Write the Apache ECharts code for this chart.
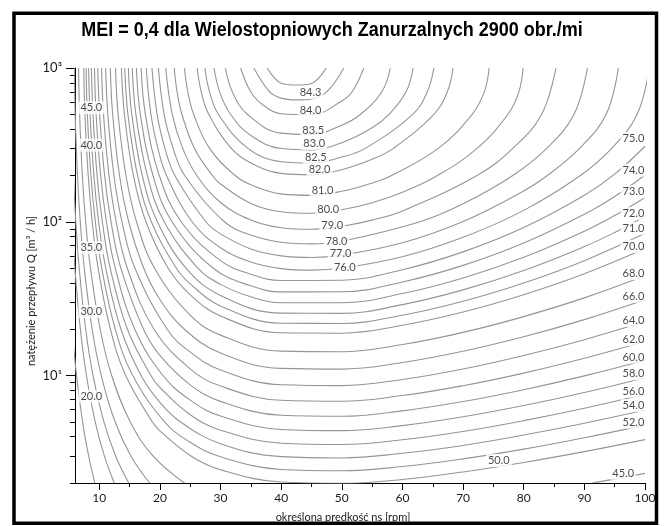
<!DOCTYPE html>
<html>
<head>
<meta charset="utf-8">
<script src="https://cdn.jsdelivr.net/npm/echarts@6/dist/echarts.min.js"></script>
<style>
  html, body { margin: 0; padding: 0; background: #fff; }
  #chart { width: 664px; height: 526px; }
</style>
</head>
<body>
<div id="chart"></div>
<script>
// axis ticks
const nsTicks = [10, 20, 30, 40, 50, 60, 70, 80, 90, 100];
const nsMinorTicks = [15, 25, 35, 45, 55, 65, 75, 85, 95];
const qDecades = [10, 100, 1000];
const qMinorTicks = [2, 3, 4, 5, 6, 7, 8, 9, 20, 30, 40, 50, 60, 70, 80, 90, 200, 300, 400, 500, 600, 700, 800, 900];

// contour lines: [ns, Q]
const c20 = [[4.86, 50], [5.53, 20], [6.25, 10], [7.25, 5], [8.25, 3], [9.27, 2]];
const c30 = [[5.51, 100], [5.98, 50], [6.89, 20], [7.89, 10], [9.33, 5], [10.84, 3], [12.47, 2]];
const c35 = [[5.41, 500], [5.74, 200], [6.13, 100], [6.69, 50], [7.76, 20], [8.98, 10], [10.77, 5], [12.70, 3], [14.87, 2]];
const c40 = [[5.88, 1000], [6.03, 500], [6.41, 200], [6.87, 100], [7.53, 50], [8.83, 20], [10.33, 10], [12.61, 5], [15.21, 3], [18.33, 2]];
const c45 = [[6.59, 1000], [6.76, 500], [7.21, 200], [7.76, 100], [8.55, 50], [10.15, 20], [12.05, 10], [15.10, 5], [18.86, 3], [24.03, 2]];
const c45b = [[91.3, 2], [95, 2.12], [100, 2.31]];
const c50 = [[7.44, 1000], [7.64, 500], [8.18, 200], [8.84, 100], [9.81, 50], [11.84, 20], [14.36, 10], [18.74, 5], [20, 4.37], [25.12, 3], [30, 2.44], [40, 2.03], [50, 1.99], [60, 2.11], [70, 2.36], [80, 2.72], [90, 3.20], [100, 3.83]];
const c52 = [[7.83, 1000], [8.04, 500], [8.62, 200], [9.35, 100], [10.41, 50], [12.65, 20], [15.53, 10], [20.77, 5], [25, 3.68], [30, 2.96], [40, 2.45], [50, 2.40], [60, 2.56], [70, 2.87], [80, 3.32], [90, 3.94], [100, 4.76]];
const c54 = [[8.25, 1000], [8.48, 500], [9.11, 200], [9.90, 100], [11.07, 50], [13.58, 20], [16.89, 10], [20, 6.68], [23.36, 5], [30, 3.60], [40, 2.97], [50, 2.91], [60, 3.12], [70, 3.51], [80, 4.10], [90, 4.89], [100, 5.96]];
const c56 = [[8.71, 1000], [8.96, 500], [9.64, 200], [10.51, 100], [11.80, 50], [14.64, 20], [18.51, 10], [20, 8.36], [25, 5.56], [30, 4.41], [40, 3.63], [50, 3.56], [60, 3.82], [70, 4.33], [80, 5.09], [90, 6.13], [100, 7.55]];
const c58 = [[9.21, 1000], [9.48, 500], [10.23, 200], [11.18, 100], [12.63, 50], [15.86, 20], [20.51, 10], [25, 6.92], [30, 5.45], [40, 4.46], [50, 4.38], [60, 4.72], [70, 5.39], [80, 6.38], [90, 7.76], [100, 9.68]];
const c60 = [[9.76, 1000], [10.06, 500], [10.88, 200], [11.94, 100], [13.56, 50], [17.30, 20], [20, 13.53], [25, 8.70], [30, 6.79], [40, 5.52], [50, 5.43], [60, 5.89], [70, 6.77], [80, 8.09], [90, 9.95], [100, 12.58]];
const c62 = [[10.38, 1000], [10.70, 500], [11.61, 200], [12.79, 100], [14.62, 50], [19.04, 20], [25, 11.05], [30, 8.54], [40, 6.90], [50, 6.80], [60, 7.41], [70, 8.59], [80, 10.37], [90, 12.94], [100, 16.63]];
const c64 = [[11.06, 1000], [11.41, 500], [12.42, 200], [13.75, 100], [15.87, 50], [21.20, 20], [25, 14.21], [30, 10.87], [40, 8.71], [50, 8.60], [60, 9.43], [70, 11.03], [80, 13.50], [90, 17.11], [100, 22.44]];
const c66 = [[11.82, 1000], [12.21, 500], [13.34, 200], [14.86, 100], [17.33, 50], [20, 31.2], [24.05, 20], [30, 14.00], [40, 11.13], [50, 11.01], [60, 12.15], [70, 14.39], [80, 17.87], [90, 23.09], [100, 31.07]];
const c68 = [[12.68, 1000], [13.11, 500], [14.40, 200], [16.15, 100], [19.11, 50], [25, 24.67], [30, 18.31], [40, 14.41], [50, 14.29], [60, 15.91], [70, 19.09], [80, 24.16], [90, 31.99], [100, 44.5]];
const c70 = [[13.66, 1000], [14.15, 500], [15.63, 200], [17.70, 100], [21.34, 50], [25, 33.5], [30, 24.38], [40, 18.96], [50, 18.85], [60, 21.21], [70, 25.88], [80, 33.52], [90, 45.87], [100, 66.9]];
const c71 = [[14.21, 1000], [14.73, 500], [16.32, 200], [18.59, 100], [22.70, 50], [25, 39.46], [30, 28.37], [40, 21.90], [50, 21.81], [60, 24.69], [70, 30.42], [80, 39.99], [90, 55.85], [100, 84.1]];
const c72 = [[14.80, 1000], [15.36, 500], [17.09, 200], [19.59, 100], [24.31, 50], [30, 33.20], [40, 25.44], [50, 25.38], [60, 28.91], [70, 36.05], [80, 48.18], [90, 68.96], [95, 85.2], [100, 108.2]];
const c73 = [[15.44, 1000], [16.04, 500], [17.93, 200], [20.71, 100], [26.26, 50], [30, 39.16], [35, 32.5], [40, 29.72], [50, 29.71], [60, 34.13], [70, 43.10], [80, 58.75], [90, 86.77], [95, 109.7], [100, 144]];
const c74 = [[16.13, 1000], [16.78, 500], [18.86, 200], [22.00, 100], [28.76, 50], [35, 38.3], [40, 34.97], [50, 35.03], [60, 40.59], [70, 52.06], [80, 72.7], [90, 111.8], [95, 145.9], [100, 201.5]];
const c75 = [[16.90, 1000], [17.61, 500], [19.90, 200], [23.51, 100], [30, 55.86], [35, 45.6], [40, 41.46], [50, 41.65], [60, 48.77], [70, 63.7], [80, 91.7], [90, 148.9], [95, 204], [100, 309.8]];
const c76 = [[17.74, 1000], [18.52, 500], [19.67, 300], [21.09, 200], [25.31, 100], [30, 67.8], [35, 54.7], [40, 49.6], [45, 48.45], [50, 49.98], [60, 59.25], [70, 79.2], [80, 118.6], [89.35, 200], [94.5, 300], [98.7, 500], [100.7, 1000]];
const c77 = [[18.69, 1000], [19.54, 500], [20.84, 300], [22.46, 200], [27.58, 100], [30, 83.4], [35, 66.5], [40, 60.0], [45, 58.6], [50, 60.7], [60, 73.0], [69.9, 100], [80, 158.7], [83.9, 200], [89.2, 300], [93.6, 500], [95.6, 1000]];
const c78 = [[19.75, 1000], [20.70, 500], [22.19, 300], [24.09, 200], [30.65, 100], [35, 81.9], [40, 73.5], [45, 71.8], [50, 74.7], [62.9, 100], [70, 130.8], [78.2, 200], [83.8, 300], [88.3, 500], [90.5, 1000]];
const c79 = [[20.96, 1000], [22.04, 500], [23.77, 300], [26.08, 200], [30, 133.5], [35, 102.7], [40, 91.5], [45, 89.4], [50, 93.5], [55, 102.5], [60, 117.5], [72.3, 200], [78.2, 300], [82.96, 500], [85.3, 1000]];
const c80 = [[22.37, 1000], [22.83, 700], [23.63, 500], [25.71, 300], [28.65, 200], [30, 176.1], [35, 131.6], [40, 116.2], [45, 113.6], [50, 119.7], [55, 132.9], [60, 155.6], [65.8, 200], [72.3, 300], [77.4, 500], [79.2, 700], [79.9, 1000]];
const c81 = [[24.05, 1000], [24.60, 700], [25.56, 500], [28.20, 300], [32.40, 200], [35, 174.1], [40, 151.8], [45, 148.5], [50, 157.9], [55, 178.8], [58.2, 200], [65.9, 300], [71.5, 500], [73.5, 700], [74.3, 1000]];
const c82 = [[26.14, 1000], [26.82, 700], [28.05, 500], [31.78, 300], [35, 241.4], [40, 206.3], [45, 201.9], [50, 218.2], [55, 254.9], [58.5, 300], [65.19, 500], [67.4, 700], [68.35, 1000]];
const c825 = [[27.42, 1000], [28.19, 700], [29.65, 500], [34.51, 300], [40, 245.9], [45, 240.8], [50, 263.4], [53.87, 300], [61.7, 500], [64.1, 700], [65.18, 1000]];
const c83 = [[28.93, 1000], [29.85, 700], [31.64, 500], [35, 364], [40, 299.5], [45, 293.6], [50, 327], [55, 409], [57.8, 500], [60.6, 700], [61.77, 1000]];
const c835 = [[30.80, 1000], [31.95, 700], [34.42, 500], [40, 377], [45, 370], [50, 425], [53.1, 500], [56.6, 700], [58.0, 1000]];
const c84 = [[33.32, 1000], [34.98, 700], [37, 575], [40, 504], [45, 496], [50, 611], [51.7, 700], [53.64, 1000]];
const c843 = [[35.5, 1000], [38.1, 700], [40, 637], [42.5, 620], [45, 629], [47.5, 700], [50.35, 1000]];
const c845 = [[37.7, 1000], [40, 797], [42.45, 776], [45, 794], [47.4, 1000]];

const contourLines = [
  c20, c30, c35, c40, c45, c45b, c50, c52, c54, c56, c58, c60, c62, c64, c66, c68,
  c70, c71, c72, c73, c74, c75, c76, c77, c78, c79, c80, c81, c82, c825, c83, c835,
  c84, c843, c845
];

// contour labels: [text, ns, Q]
const contourLabels = [
  ['84.3', 44.85, 694], ['84.0', 44.85, 532], ['83.5', 45.28, 390], ['83.0', 45.44, 323],
  ['82.5', 45.72, 262], ['82.0', 46.33, 219], ['81.0', 46.83, 160], ['80.0', 47.75, 121],
  ['79.0', 48.41, 94.9], ['78.0', 49.13, 75.0], ['77.0', 49.79, 62.6], ['76.0', 50.5, 50.3],
  ['75.0', 98.1, 348], ['74.0', 98.1, 216.6], ['73.0', 98.1, 156.4], ['72.0', 98.1, 113.1],
  ['71.0', 98.1, 90.3], ['70.0', 98.1, 69.2], ['68.0', 98.1, 46.0], ['66.0', 98.1, 32.7],
  ['64.0', 98.1, 22.8], ['62.0', 98.1, 17.1], ['60.0', 98.1, 13.2], ['58.0', 98.1, 10.26],
  ['56.0', 98.1, 7.90], ['54.0', 98.1, 6.38], ['52.0', 98.1, 4.96],
  ['50.0', 75.9, 2.80], ['45.0', 96.4, 2.31],
  ['45.0', 8.69, 551], ['40.0', 8.69, 315], ['35.0', 8.69, 67.9], ['30.0', 8.69, 26.1], ['20.0', 8.69, 7.33]
];

const sup = { 1: '\u00b9', 2: '\u00b2', 3: '\u00b3' };
const lineColor = '#959595';
const font = 'Lato, "Noto Sans", sans-serif';

const chart = echarts.init(document.getElementById('chart'));

const series = contourLines.map(pts => ({
  type: 'line',
  xAxisIndex: 0,
  yAxisIndex: 0,
  data: pts,
  showSymbol: false,
  smooth: 0.4,
  silent: true,
  lineStyle: { color: lineColor, width: 1.1 },
  z: 2
}));

series.push({
  type: 'scatter',
  xAxisIndex: 0,
  yAxisIndex: 0,
  symbolSize: 1,
  silent: true,
  itemStyle: { color: 'rgba(0,0,0,0)' },
  z: 5,
  data: contourLabels.map(l => ({ name: l[0], value: [l[1], l[2]] })),
  label: {
    show: true,
    position: 'inside',
    formatter: '{b}',
    fontFamily: font,
    fontSize: 11,
    color: '#1a1a1a',
    backgroundColor: '#fff',
    padding: [1, 2]
  }
});

const logMin = Math.log10(2);

chart.setOption({
  animation: false,
  grid: { left: 75, right: 19, top: 68, bottom: 43, outerBoundsMode: 'none' },
  xAxis: [
    {
      type: 'value', min: 6, max: 100, position: 'bottom',
      axisLine: { show: true, lineStyle: { color: '#000', width: 1 } },
      axisTick: { show: true, customValues: nsTicks, length: 7, lineStyle: { color: '#000' } },
      axisLabel: { show: true, customValues: nsTicks, margin: 9, fontSize: 12, fontFamily: font, color: '#1a1a1a' },
      splitLine: { show: false }
    },
    {
      type: 'value', min: 6, max: 100, position: 'bottom',
      axisLine: { show: false },
      axisTick: { show: true, customValues: nsMinorTicks, length: 4, lineStyle: { color: '#000' } },
      axisLabel: { show: false },
      splitLine: { show: false }
    }
  ],
  yAxis: [
    { type: 'log', logBase: 10, min: 2, max: 1000, position: 'left', show: false },
    {
      type: 'value', min: logMin, max: 3, position: 'left',
      axisLine: { show: true, lineStyle: { color: '#000', width: 1 } },
      axisTick: { show: true, customValues: qDecades.map(Math.log10), length: 9, lineStyle: { color: '#000' } },
      axisLabel: {
        show: true, customValues: qDecades.map(Math.log10), margin: 13,
        fontSize: 13, fontFamily: font, color: '#1a1a1a',
        formatter: v => '10' + sup[Math.round(v)]
      },
      splitLine: { show: false }
    },
    {
      type: 'value', min: logMin, max: 3, position: 'left',
      axisLine: { show: false },
      axisTick: { show: true, customValues: qMinorTicks.map(Math.log10), length: 5, lineStyle: { color: '#000' } },
      axisLabel: { show: false },
      splitLine: { show: false }
    }
  ],
  graphic: [
    {
      type: 'rect',
      shape: { x: 14, y: 13.25, width: 642.5, height: 510 },
      style: { fill: 'none', stroke: '#000', lineWidth: 3.5 },
      silent: true
    },
    {
      type: 'text',
      x: 332, y: 30,
      scaleX: 0.9,
      style: {
        text: 'MEI = 0,4 dla Wielostopniowych Zanurzalnych 2900 obr./mi',
        fontFamily: '"Liberation Sans", Arial, sans-serif',
        fontWeight: 'bold', fontSize: 20, fill: '#000',
        align: 'center', verticalAlign: 'middle'
      },
      silent: true
    },
    {
      type: 'text',
      x: 343, y: 517,
      style: { text: 'określona prędkość ns [rpm]', fontFamily: font, fontSize: 11, fill: '#1a1a1a', align: 'center', verticalAlign: 'middle' },
      silent: true
    },
    {
      type: 'text',
      x: 31, y: 291,
      rotation: Math.PI / 2,
      style: { text: 'natężenie przepływu Q [m³ / h]', fontFamily: font, fontSize: 11, fill: '#1a1a1a', align: 'center', verticalAlign: 'middle' },
      silent: true
    }
  ],
  series: series
});
</script>
</body>
</html>
